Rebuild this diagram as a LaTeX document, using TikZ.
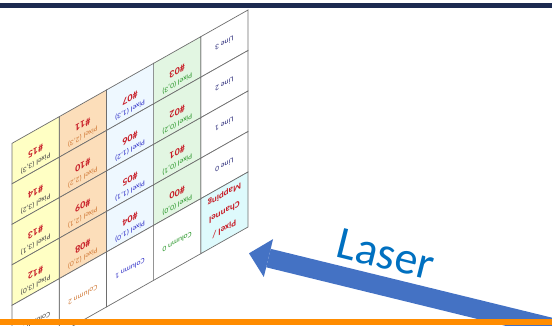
\documentclass[tikz,border=0pt]{standalone}
\usepackage{fontspec}
\setmainfont{Carlito}
\usetikzlibrary{arrows.meta, positioning}

\definecolor{navyband}{RGB}{28,42,80}
\definecolor{barorange}{RGB}{255,140,0}
\definecolor{laserblue}{RGB}{68,114,196}
\definecolor{lasertext}{RGB}{0,112,192}
\definecolor{colyellow}{RGB}{255,255,196}
\definecolor{colorange}{RGB}{252,222,186}
\definecolor{colblue}{RGB}{238,248,255}
\definecolor{colgreen}{RGB}{226,246,226}
\definecolor{colcyan}{RGB}{222,250,252}
\definecolor{gridgray}{RGB}{110,110,110}
\definecolor{pixred}{RGB}{200,30,40}
\definecolor{txtyellow}{RGB}{70,70,70}
\definecolor{txtorange}{RGB}{210,125,60}
\definecolor{txtblue}{RGB}{50,50,200}
\definecolor{txtgreen}{RGB}{40,150,40}
\definecolor{txtline}{RGB}{40,40,120}

\tikzset{
	cell/.style={draw=gridgray, line width=0.7pt},
	pixtext/.style={transform shape, align=center, inner sep=0pt, font=\fontsize{7.5}{13}\selectfont},
	linetext/.style={transform shape, inner sep=0pt, text=txtline, font=\fontsize{7.5}{9}\selectfont},
	maptext/.style={transform shape, align=center, inner sep=0pt, text=pixred, font=\bfseries\fontsize{9}{17}\selectfont},
	% the laser beam and its tag
	beam/.style={draw=laserblue, line width=19pt, -{Triangle[length=20pt, width=39pt, line width=0pt]}},
	lasertag/.style={text=lasertext, inner sep=0pt, font=\fontsize{46}{50}\selectfont},
}

\begin{document}
\begin{tikzpicture}[x=1pt, y=1pt]
	\useasboundingbox (0,0) rectangle (552,325);
	\clip (0,0) rectangle (552,325);
	
	\fill[navyband] (0,316.7) rectangle (552,322.3);
	
	\begin{scope}[cm={-1,-0.565,0,-1,(248,315)}]
		% line labels and mapping cell
		\foreach \r in {0,...,3}{
			\pgfmathtruncatemacro\lno{3-\r}
			\draw[cell, fill=white] (0,40.5*\r) rectangle ++(47.2,40.5);
			\node (line\lno) [linetext] at (23.6,40.5*\r+20.25) {Line \lno};
		}
		\draw[cell, fill=colcyan] (0,162) rectangle ++(47.2,55);
		\node (map) [maptext] at (23.6,188) {Pixel /\\Channel\\Mapping};
		
		% pixel columns
		\foreach \c/\fc/\tc in {0/colgreen/txtgreen, 1/colblue/txtblue, 2/colorange/txtorange, 3/colyellow/txtyellow}{
			\foreach \r in {0,...,3}{
				\pgfmathtruncatemacro\lno{3-\r}
				\pgfmathtruncatemacro\pnum{4*\c+3-\r}
				\draw[cell, fill=\fc] (47.2*\c+47.2,40.5*\r) rectangle ++(47.2,40.5);
				\node (px\c\lno) [pixtext, text=\tc] at (47.2*\c+70.8,40.5*\r+27.25)
					{Pixel (\c,\lno)\\{\color{pixred}\bfseries\fontsize{10}{12}\selectfont\#\ifnum\pnum<10 0\fi\pnum}};
			}
			\draw[cell, fill=white] (47.2*\c+47.2,162) rectangle ++(47.2,55);
			\node (col\c) [linetext, text=\tc] at (47.2*\c+70.8,192) {Column \c};
		}
	\end{scope}
	
	\coordinate (beamtail) at (562,-4.9);
	\coordinate (beamtip) at (249,71.7);
	\draw[beam] (beamtail) -- (beamtip);
	\node (laser) [lasertag, anchor=base, rotate=-14] at (382.5,56.5) {Laser};
	
	\fill[barorange] (0,0) rectangle (552,6);
\end{tikzpicture}
\end{document}
